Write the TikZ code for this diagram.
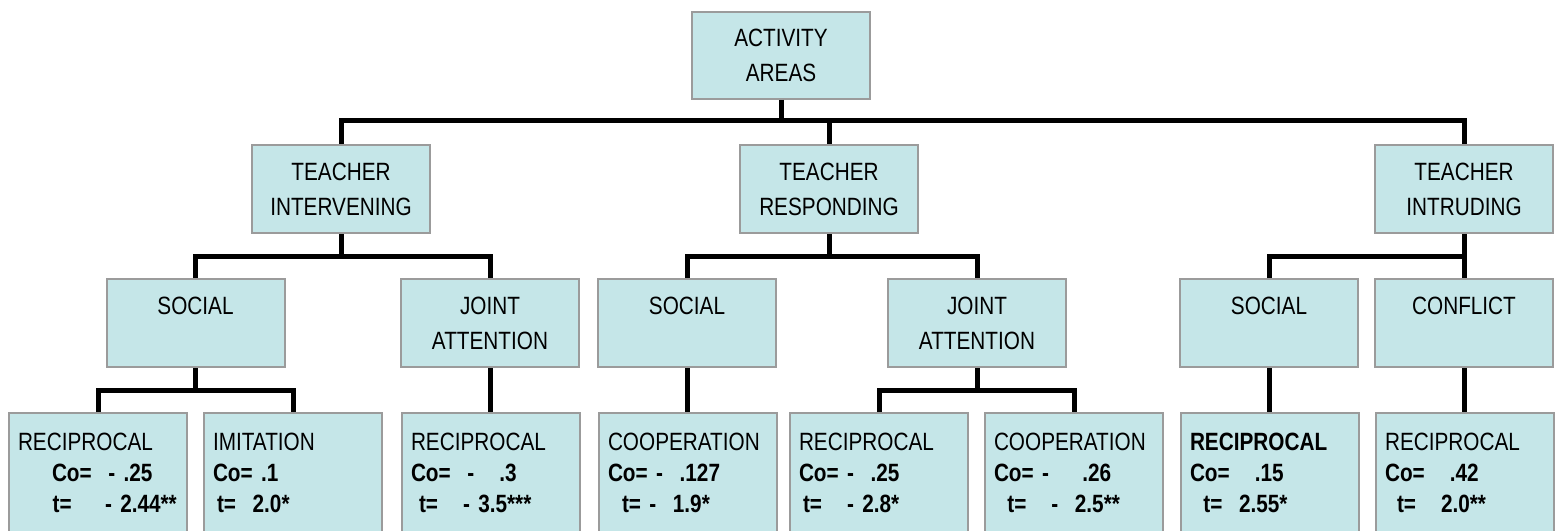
\documentclass[tikz,border=0pt]{standalone}
\usepackage{fontspec}
\setmainfont{Liberation Sans}[FakeStretch=0.83]

\tikzset{every picture/.style={line width=0.75pt}}
\tikzset{
  areabox/.style={draw={rgb, 255:red, 155; green, 155; blue, 155 }, line width=1.5, fill={rgb, 255:red, 197; green, 230; blue, 232 }, minimum width=133.5pt, minimum height=66pt, inner sep=0pt, align=center, font=\fontsize{18.75}{26.25}\selectfont},
  leafbox/.style={draw={rgb, 255:red, 155; green, 155; blue, 155 }, line width=1.5, fill={rgb, 255:red, 197; green, 230; blue, 232 }, anchor=north west, text width=120pt, inner xsep=6.75pt, inner ysep=15pt, align=left, text depth=90pt, font=\fontsize{18.75}{23.25}\selectfont},
  branch/.style={line width=3.75, line join=miter}
}

\begin{document}
\begin{tikzpicture}[x=0.75pt,y=0.75pt,yscale=-1,xscale=1]
\useasboundingbox (0,0) rectangle (1559,531);
\clip (0,0) rectangle (1559,531);

%Bar levels
\coordinate (rowa) at (0,121);
\coordinate (rowb) at (0,256);
\coordinate (rowc) at (0,390);

% Root
\draw (781,55.5) node [areabox, minimum height=65.25pt] (root) {ACTIVITY\\AREAS};

% Teacher level
\draw (341,189) node [areabox] (ti) {TEACHER\\INTERVENING};
\draw (829,189) node [areabox] (tr) {TEACHER\\RESPONDING};
\draw (1464,189) node [areabox] (tin) {TEACHER\\INTRUDING};

% Area level
\draw (195.5,323) node [areabox] (socia) {SOCIAL\\\mbox{}};
\draw (490,323) node [areabox] (jointa) {JOINT\\ATTENTION};
\draw (687,323) node [areabox] (socib) {SOCIAL\\\mbox{}};
\draw (977,323) node [areabox] (jointb) {JOINT\\ATTENTION};
\draw (1269,323) node [areabox] (socic) {SOCIAL\\\mbox{}};
\draw (1464,323) node [areabox] (confl) {CONFLICT\\\mbox{}};

% Result level
\draw (8,412) node [leafbox] (reca) {RECIPROCAL\\\hspace*{25.5pt}\textbf{Co=~~-~.25}\\\mbox{\hspace*{26pt}\textbf{t=~~~~-~2.44**}}};
\draw (203,412) node [leafbox] (imit) {IMITATION\\\textbf{Co=~.1}\\\mbox{\hspace*{3pt}\textbf{t=~~2.0*}}};
\draw (401,412) node [leafbox] (recb) {RECIPROCAL\\\textbf{Co=~~-~~~.3}\\\mbox{\hspace*{6pt}\textbf{t=~~~-~3.5***}}};
\draw (598,412) node [leafbox] (coopa) {COOPERATION\\\textbf{Co=~-~~.127}\\\mbox{\hspace*{10.5pt}\textbf{t=~-~~1.9*}}};
\draw (789,412) node [leafbox] (recc) {RECIPROCAL\\\textbf{Co=~-~~.25}\\\mbox{\hspace*{3pt}\textbf{t=~~~-~2.8*}}};
\draw (984,412) node [leafbox] (coopb) {COOPERATION\\\textbf{Co=~-~~~~.26}\\\mbox{\hspace*{10pt}\textbf{t=~~~-~~2.5**}}};
\draw (1180,412) node [leafbox] (recd) {\textbf{RECIPROCAL}\\\textbf{Co=~~~.15}\\\mbox{\hspace*{10pt}\textbf{t=~~2.55*}}};
\draw (1375,412) node [leafbox] (rece) {RECIPROCAL\\\textbf{Co=~~~.42}\\\mbox{\hspace*{9pt}\textbf{t=~~~2.0**}}};

%Straight Lines root to teachers
\draw [branch] (root.south) -- (root.south |- rowa);
\draw [branch] (ti.north) |- (tin.north |- rowa) -- (tin.north);
\draw [branch] (tr.north) -- (tr.north |- rowa);

%Straight Lines teachers to areas
\draw [branch] (ti.south) -- (ti.south |- rowb);
\draw [branch] (socia.north) |- (jointa.north |- rowb) -- (jointa.north);
\draw [branch] (tr.south) -- (tr.south |- rowb);
\draw [branch] (socib.north) |- (jointb.north |- rowb) -- (jointb.north);
\draw [branch] (tin.south) -- (tin.south |- rowb);
\draw [branch] (socic.north) |- (confl.north |- rowb) -- (confl.north);

%Straight Lines areas to results
\draw [branch] (socia.south) -- (socia.south |- rowc);
\draw [branch] (reca.north) |- (imit.north |- rowc) -- (imit.north);
\draw [branch] (jointa.south) -- (jointa.south |- recb.north);
\draw [branch] (socib.south) -- (socib.south |- coopa.north);
\draw [branch] (jointb.south) -- (jointb.south |- rowc);
\draw [branch] (recc.north) |- (coopb.north |- rowc) -- (coopb.north);
\draw [branch] (socic.south) -- (socic.south |- recd.north);
\draw [branch] (confl.south) -- (confl.south |- rece.north);

\end{tikzpicture}
\end{document}
